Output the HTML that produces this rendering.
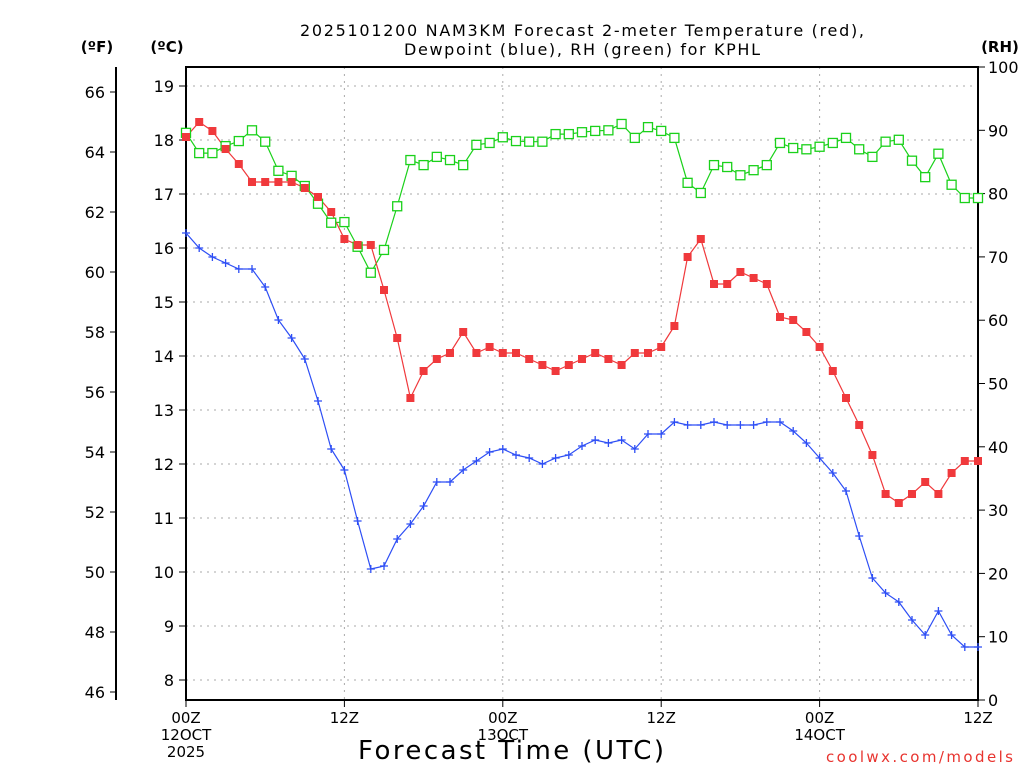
<!DOCTYPE html>
<html><head><meta charset="utf-8"><style>
body{margin:0;background:#fff;}
svg{display:block;font-family:"DejaVu Sans","Liberation Sans",sans-serif;}
</style></head><body>
<svg id="chart" width="1024" height="768" viewBox="0 0 1024 768" xmlns="http://www.w3.org/2000/svg">
<rect width="1024" height="768" fill="#fff"/>
<text x="582" y="36" font-size="16" text-anchor="middle" textLength="564" lengthAdjust="spacing">2025101200 NAM3KM Forecast 2-meter Temperature (red),</text>
<text x="582" y="55" font-size="16" text-anchor="middle" textLength="356" lengthAdjust="spacing">Dewpoint (blue), RH (green) for KPHL</text>
<text x="97" y="52" font-size="15" font-weight="bold" text-anchor="middle">(ºF)</text>
<text x="167" y="52" font-size="15" font-weight="bold" text-anchor="middle">(ºC)</text>
<text x="1000" y="52" font-size="15" font-weight="bold" text-anchor="middle">(RH)</text>
<g id="grid"></g>
<g id="axes"></g>
<g id="series"></g>
<text x="511" y="759" font-size="26" text-anchor="middle" textLength="306" lengthAdjust="spacing">Forecast Time (UTC)</text>
<text x="1013" y="762" font-size="15" fill="#e8342f" text-anchor="end" textLength="187" lengthAdjust="spacing">coolwx.com/models</text>
</svg>
<script>
const hours = Array.from({length:61},(_,i)=>i);
const tempF = [64.5,65.0,64.7,64.1,63.6,63.0,63.0,63.0,63.0,62.8,62.5,62.0,61.1,60.9,60.9,59.4,57.8,55.8,56.7,57.1,57.3,58.0,57.3,57.5,57.3,57.3,57.1,56.9,56.7,56.9,57.1,57.3,57.1,56.9,57.3,57.3,57.5,58.2,60.5,61.1,59.6,59.6,60.0,59.8,59.6,58.5,58.4,58.0,57.5,56.7,55.8,54.9,53.9,52.6,52.3,52.6,53.0,52.6,53.3,53.7,53.7];
const dewF = [61.3,60.8,60.5,60.3,60.1,60.1,59.5,58.4,57.8,57.1,55.7,54.1,53.4,51.7,50.1,50.2,51.1,51.6,52.2,53.0,53.0,53.4,53.7,54.0,54.1,53.9,53.8,53.6,53.8,53.9,54.2,54.4,54.3,54.4,54.1,54.6,54.6,55.0,54.9,54.9,55.0,54.9,54.9,54.9,55.0,55.0,54.7,54.3,53.8,53.3,52.7,51.2,49.8,49.3,49.0,48.4,47.9,48.7,47.9,47.5,47.5];
const rh = [89.6,86.4,86.4,87.5,88.3,90.0,88.2,83.6,82.8,81.2,78.4,75.4,75.5,71.6,67.5,71.1,78.0,85.3,84.5,85.8,85.3,84.5,87.7,88.0,88.9,88.3,88.2,88.2,89.4,89.4,89.7,89.9,90.0,91.0,88.8,90.5,89.9,88.8,81.7,80.1,84.5,84.2,82.9,83.7,84.5,88.0,87.2,87.0,87.4,88.0,88.8,87.0,85.8,88.2,88.5,85.2,82.6,86.3,81.4,79.3,79.3];
const fTicks = [46,48,50,52,54,56,58,60,62,64,66];
const cTicks = [8,9,10,11,12,13,14,15,16,17,18,19];
const rhTicks = [0,10,20,30,40,50,60,70,80,90,100];
const xTickHours = [0,12,24,36,48,60];
const xTickLabels = [["00Z","12OCT","2025"],["12Z"],["00Z","13OCT"],["12Z"],["00Z","14OCT"],["12Z"]];

const L=186,R=978,T=67,B=700;
const xs=h=>L+(R-L)*h/60;
const yF=f=>92+(66-f)*30;
const yC=c=>yF(c*9/5+32);
const yRH=r=>B-(B-T)*r/100;
const NS="http://www.w3.org/2000/svg";
function mk(tag,attrs,parent,text){const e=document.createElementNS(NS,tag);for(const k in attrs)e.setAttribute(k,attrs[k]);if(text!==undefined)e.textContent=text;parent.appendChild(e);return e;}
const grid=document.getElementById('grid'),axes=document.getElementById('axes'),series=document.getElementById('series');

cTicks.forEach(c=>{const y=yC(c);
 const g=mk('line',{x1:L,x2:R,y1:y,y2:y,stroke:'#aaa','stroke-dasharray':'2,5','stroke-width':1},grid);
 
 
 const t=mk('line',{x1:L-7,x2:L,y1:y,y2:y,stroke:'#000'},axes);
 
 
 const tx=mk('text',{x:174,y:y+6,'font-size':16,'text-anchor':'end'},axes,String(c));
 
 
});
xTickHours.forEach((h,i)=>{const x=xs(h);
 if(h>0&&h<60){const g=mk('line',{x1:x,x2:x,y1:T,y2:B,stroke:'#aaa','stroke-dasharray':'2,5'},grid);
  
  }
 const t=mk('line',{x1:x,x2:x,y1:B,y2:B+7,stroke:'#000'},axes);
 
 
 xTickLabels[i].forEach((s,j)=>{const tx=mk('text',{x:x,y:723+j*17,'font-size':15,'text-anchor':'middle'},axes,s);
  
  });
});
const fl=mk('line',{x1:116,x2:116,y1:T,y2:B,stroke:'#000','stroke-width':2},axes);


fTicks.forEach(f=>{const y=yF(f);
 const t=mk('line',{x1:110,x2:116,y1:y,y2:y,stroke:'#000'},axes);
 
 
 const tx=mk('text',{x:105,y:y+6,'font-size':16,'text-anchor':'end'},axes,String(f));
 
 
});
rhTicks.forEach(r=>{const y=yRH(r);
 const t=mk('line',{x1:R,x2:R+7,y1:y,y2:y,stroke:'#000'},axes);
 
 
 const tx=mk('text',{x:988,y:y+6,'font-size':16},axes,String(r));
 
 
});
const fr=mk('rect',{x:L,y:T,width:R-L,height:B-T,fill:'none',stroke:'#000','stroke-width':2},axes);



function line(vals,yfn,color,name){
 const p=mk('polyline',{points:vals.map((v,i)=>xs(hours[i])+','+yfn(v)).join(' '),fill:'none',stroke:color,'stroke-width':1.2},series);
 
 
}
line(rh,yRH,'#1ad11a','rh-line');
line(tempF,yF,'#f0393c','temperature-line');
line(dewF,yF,'#2d4ef5','dewpoint-line');
rh.forEach((v,i)=>{const m=mk('rect',{x:xs(hours[i])-4.5,y:yRH(v)-4.5,width:9,height:9,fill:'#fff',stroke:'#1ad11a','stroke-width':1.3},series);
 
 });
tempF.forEach((v,i)=>{const m=mk('rect',{x:xs(hours[i])-4,y:yF(v)-4,width:8,height:8,fill:'#f0393c'},series);
 
 });
dewF.forEach((v,i)=>{const x=xs(hours[i]),y=yF(v);
 const m=mk('path',{d:`M${x-4},${y}H${x+4}M${x},${y-4}V${y+4}`,stroke:'#2d4ef5','stroke-width':1.3},series);
 
 });
</script>
</body></html>
